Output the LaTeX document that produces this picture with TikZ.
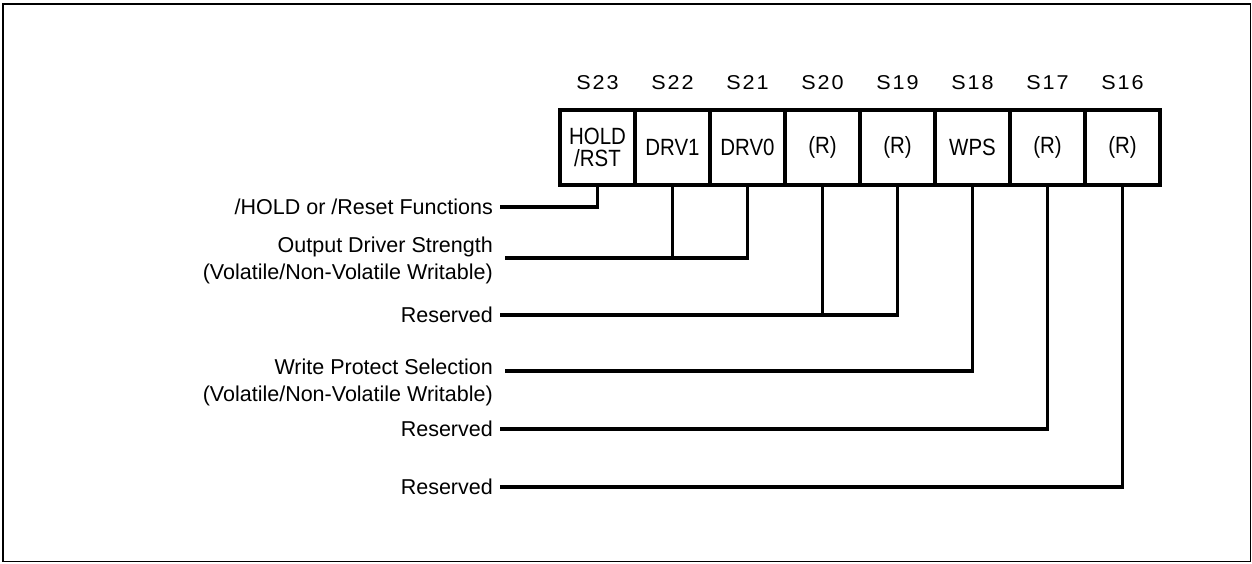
\documentclass[tikz,border=0pt]{standalone}
\usepackage{fontspec}
\setmainfont{Liberation Sans}
\newfontfamily\slabfont[LetterSpace=10,FakeStretch=1.08]{Liberation Sans}
\newfontfamily\cellfont[FakeStretch=0.87]{Liberation Sans}
\begin{document}
\begin{tikzpicture}[x=1pt,y=-1pt,line join=miter,
  cell/.style={draw,line width=3.5pt,minimum width=75pt,minimum height=75pt,inner sep=0pt,
    align=center,font=\cellfont\fontsize{23.5}{22}\selectfont},
  slab/.style={font=\slabfont\fontsize{20}{20}\selectfont,inner sep=0pt},
  desc/.style={anchor=east,align=right,inner sep=0pt,font=\fontsize{21.5}{27}\selectfont},
  conn/.style={line width=3.5pt}]
\useasboundingbox (0,0) rectangle (1252,563);
\draw[line width=1.6pt] (3,4) rectangle (1250.5,561.5);
% cells
\node[cell] (b23) at (597.5,147.5) {HOLD\\/RST};
\node[cell] (b22) at (672.5,147.5) {DRV1};
\node[cell] (b21) at (747.5,147.5) {DRV0};
\node[cell] (b20) at (822.5,147.5) {(R)};
\node[cell] (b19) at (897.5,147.5) {(R)};
\node[cell] (b18) at (972.5,147.5) {WPS};
\node[cell] (b17) at (1047.5,147.5) {(R)};
\node[cell] (b16) at (1122.5,147.5) {(R)};
% bit labels
\foreach \n in {23,22,21,20,19,18,17,16}{
  \node[slab] (s\n) at ([yshift=65pt]b\n.center) {S\n};
}
% descriptions
\node[desc] (d1) at (493,207) {/HOLD or /Reset Functions};
\node[desc] (d2) at (493,260.5) {Output Driver Strength\\(Volatile/Non-Volatile Writable)};
\node[desc] (d3) at (493,315) {Reserved};
\node[desc] (d4) at (493,382) {Write Protect Selection\\(Volatile/Non-Volatile Writable)};
\node[desc] (d5) at (493,429) {Reserved};
\node[desc] (d6) at (493,487) {Reserved};
% connector ends
\coordinate (c1) at (500,207);
\coordinate (c2) at (505,258);
\coordinate (c3) at (500,315);
\coordinate (c4) at (505,371);
\coordinate (c5) at (500,429);
\coordinate (c6) at (500,487);
% connectors
\draw[conn] (b23.south) |- (c1);
\draw[conn] (b22.south) -- (b22.south |- c2);
\draw[conn] (b21.south) |- (c2);
\draw[conn] (b20.south) -- (b20.south |- c3);
\draw[conn] (b19.south) |- (c3);
\draw[conn] (b18.south) |- (c4);
\draw[conn] (b17.south) |- (c5);
\draw[conn] (b16.south) |- (c6);
\end{tikzpicture}
\end{document}
